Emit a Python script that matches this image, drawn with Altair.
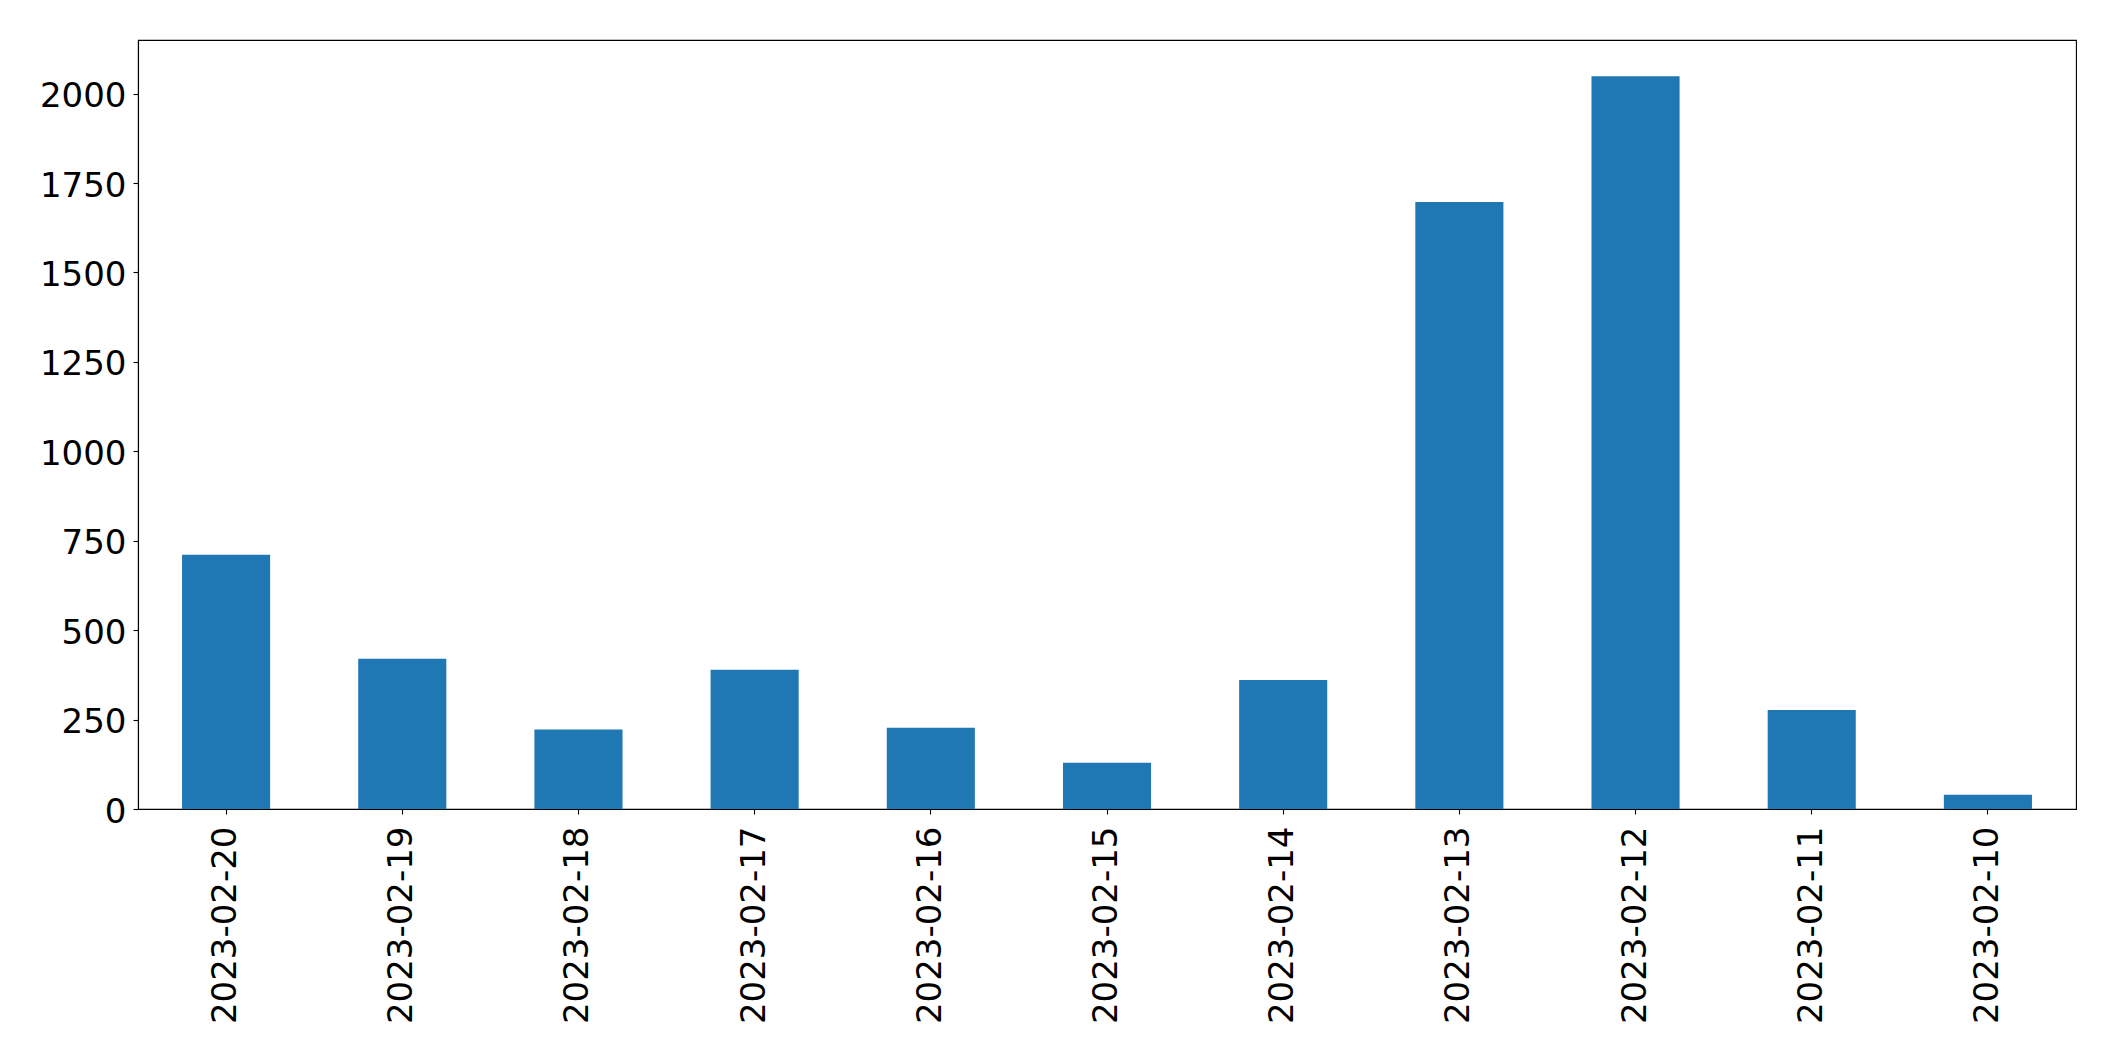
import altair as alt
import pandas as pd

dates = ["2023-02-20", "2023-02-19", "2023-02-18", "2023-02-17", "2023-02-16",
         "2023-02-15", "2023-02-14", "2023-02-13", "2023-02-12", "2023-02-11",
         "2023-02-10"]
counts = [711, 420, 222, 389, 227, 129, 361, 1697, 2049, 277, 40]
y_ticks = [0, 250, 500, 750, 1000, 1250, 1500, 1750, 2000]

df = pd.DataFrame({"date": dates, "count": counts})

FONT = "DejaVu Sans"

chart = alt.Chart(df).mark_bar(color="#1f77b4").encode(
    x=alt.X("date:N", sort=dates, title=None,
            scale=alt.Scale(paddingInner=0.5, paddingOuter=0.25),
            axis=alt.Axis(labelAngle=-90, labelFontSize=34, labelFont=FONT,
                          labelColor="black", tickColor="black", domainColor="black",
                          tickSize=5, labelPadding=12, domainWidth=1.1, tickWidth=1.1,
                          labelLimit=0)),
    y=alt.Y("count:Q", title=None,
            scale=alt.Scale(domain=[0, 2150], nice=False),
            axis=alt.Axis(values=y_ticks, format="d", grid=False, labelFontSize=34,
                          labelFont=FONT, labelColor="black", tickColor="black",
                          domainColor="black", tickSize=5, labelPadding=7,
                          domainWidth=1.1, tickWidth=1.1, labelFlush=False,
                          labelLimit=0, labelOffset=3)),
).properties(
    width=1938,
    height=769,
    autosize=alt.AutoSizeParams(type="none"),
    padding={"left": 130, "top": 32, "right": 30, "bottom": 220},
    background="white",
).configure_view(
    stroke="black", strokeWidth=1.1
)

chart.save("out.html", embed_options={"renderer": "svg", "actions": False})
